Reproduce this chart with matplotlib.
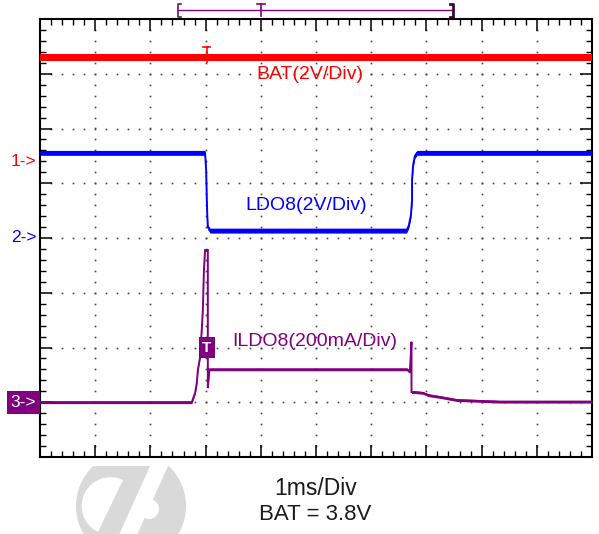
import matplotlib
matplotlib.use("Agg")
import numpy as np
import matplotlib.pyplot as plt
from matplotlib.ticker import MultipleLocator
from matplotlib.patches import Polygon, Circle

plt.rcParams['font.family'] = ['Liberation Sans', 'DejaVu Sans']

# Scope setup: 10 x 8 divisions, 1 ms/div
N_XDIV, N_YDIV = 10, 8
BAT_V_DIV = 2.0       # V/div
LDO_V_DIV = 2.0       # V/div
ILDO_MA_DIV = 200.0   # mA/div
REF1, REF2, REF3 = 5.40, 4.00, 1.00   # channel ground markers (div)
TRIG_T_MS = 3.02
TRIG_MA = 200.0

# CH1: battery, flat at 3.8 V
BAT_LEVEL_V = 3.8
bat_t = [0.0, 10.0]
bat_v = [BAT_LEVEL_V, BAT_LEVEL_V]

# CH2: LDO8 output voltage (V)
ldo_t = [0.0, 2.99, 3.01, 3.02, 3.03, 3.04, 3.08, 6.64, 6.68, 6.72,
         6.74, 6.74, 6.76, 6.79, 6.83, 10.0]
ldo_v = [3.11, 3.11, 2.48, 1.57, 0.84, 0.40, 0.27, 0.27, 0.44, 0.84,
         1.39, 2.12, 2.67, 2.99, 3.11, 3.11]

# CH3: LDO8 load current (mA)
ildo_t = [0.0, 2.75, 2.81, 2.84, 2.86, 2.90, 2.93, 2.95, 2.96, 2.97,
          2.99, 3.04, 3.04, 3.07, 6.65, 6.70, 6.73, 6.73, 6.79, 6.94,
          7.03, 7.25, 7.55, 8.33, 10.0]
ildo_ma = [0, 0, 34, 70, 118, 165, 264, 337, 410, 483,
           556, 556, 52, 120, 120, 110, 221, 37, 37, 34,
           26, 19, 8, 2, 2]

RED, BLUE, PURPLE = "#ff0000", "#0000ff", "#800080"


def trace(ax, t, y, color, band):
    """Scope trace: thin line plus a vertical noise band around it."""
    t = np.asarray(t, float)
    y = np.asarray(y, float)
    ax.fill_between(t, y - band, y + band, color=color, lw=0, zorder=3)
    ax.plot(t, y, color=color, lw=1.4, zorder=3, solid_joinstyle="miter")


fig = plt.figure(figsize=(5.99, 5.34), dpi=100)

# watermark logo under the time-base text (figure pixel coordinates)
wm = fig.add_axes([0, 0, 1, 1], zorder=0)
wm.set_xlim(0, 599); wm.set_ylim(534, 0); wm.axis("off")
gray = "#d9d9d9"
th = np.linspace(0, 2 * np.pi, 200)
disk = np.column_stack([131 + 55 * np.cos(th),
                        np.maximum(506 + 55 * np.sin(th), 466)])
wm.add_patch(Polygon(disk, closed=True, fc=gray, ec="none"))
# diagonal slash
wm.add_patch(Polygon([(150, 466), (168, 466), (134.7, 540), (116.7, 540)],
                     closed=True, fc="white", ec="none"))
# half-moon cut on the left
u = np.array([-0.433, 0.901])
n = np.array([-0.901, -0.433])
phi = np.linspace(0, np.pi, 60)
half = np.array([110.5, 506]) + 28.8 * (np.outer(np.cos(phi), u)
                                        + np.outer(np.sin(phi), n))
wm.add_patch(Polygon(half, closed=True, fc="white", ec="none"))
wm.add_patch(Circle((149, 509), 10, fc="white", ec="none"))

ax = fig.add_axes([40 / 599, 77 / 534, 552 / 599, 438 / 534], zorder=1)
ax.set_xlim(0, N_XDIV)
ax.set_ylim(0, N_YDIV)

# dotted graticule
minor = np.arange(0.2, 10, 0.2)
for gx in range(1, N_XDIV):
    ys = minor[minor < N_YDIV]
    ax.plot(np.full_like(ys, gx), ys, ls="none", marker="s", ms=1.2,
            mfc="#444444", mec="none", zorder=1)
for gy in range(1, N_YDIV):
    ax.plot(minor, np.full_like(minor, gy), ls="none", marker="s", ms=1.2,
            mfc="#444444", mec="none", zorder=1)

ax.xaxis.set_major_locator(MultipleLocator(1))
ax.xaxis.set_minor_locator(MultipleLocator(0.2))
ax.yaxis.set_major_locator(MultipleLocator(1))
ax.yaxis.set_minor_locator(MultipleLocator(0.2))
ax.tick_params(which="both", direction="in", top=True, right=True,
               labelbottom=False, labelleft=False, color="black")
ax.tick_params(which="major", length=8.5, width=1.1)
ax.tick_params(which="minor", length=4.0, width=1.0)
for sp in ax.spines.values():
    sp.set_linewidth(1.5)

# traces in division units
bat_div = [REF1 + v / BAT_V_DIV for v in bat_v]
ldo_div = [REF2 + v / LDO_V_DIV for v in ldo_v]
ildo_div = [REF3 + i / ILDO_MA_DIV for i in ildo_ma]
trace(ax, bat_t, bat_div, RED, 0.065)
trace(ax, ldo_t, ldo_div, BLUE, 0.045)
trace(ax, ildo_t, ildo_div, PURPLE, 0.025)

# trigger marks
bat_y = bat_div[0]
ax.plot([TRIG_T_MS, TRIG_T_MS], [bat_y - 0.08, bat_y + 0.19], color=RED, lw=1.2,
        zorder=4)
ax.plot([TRIG_T_MS - 0.065, TRIG_T_MS + 0.065], [bat_y + 0.19, bat_y + 0.19],
        color=RED, lw=1.2, zorder=4)
ax.text(TRIG_T_MS, REF3 + TRIG_MA / ILDO_MA_DIV, "T", color="white", fontsize=11,
        fontweight="bold", ha="center", va="center", zorder=5,
        bbox=dict(boxstyle="square,pad=0.22", fc=PURPLE, ec="none"))

# memory position bar above the screen
yb = 8.16
ax.plot([2.5, 7.48], [yb, yb], color=PURPLE, lw=1.0, clip_on=False)
ax.plot([2.55, 2.5, 2.5, 2.55], [8.28, 8.28, 8.04, 8.04], color="#6a1a6a",
        lw=1.2, clip_on=False)
ax.plot([7.42, 7.48, 7.48, 7.42], [8.28, 8.28, 8.03, 8.03], color="#3a0a3a",
        lw=2.0, clip_on=False)
ax.plot([4.0, 4.0], [8.06, 8.28], color=PURPLE, lw=1.2, clip_on=False)
ax.plot([3.93, 4.07], [8.28, 8.28], color=PURPLE, lw=1.2, clip_on=False)

# channel ground markers
ax.annotate("1->", xy=(0, REF1), xytext=(-2.5, 0), textcoords="offset points",
            color=RED, fontsize=12.5, ha="right", va="center",
            annotation_clip=False)
ax.annotate("2->", xy=(0, REF2), xytext=(-2.5, 0), textcoords="offset points",
            color=BLUE, fontsize=12.5, ha="right", va="center",
            annotation_clip=False)
ax.annotate("3->", xy=(0, REF3), xytext=(-3.0, 0), textcoords="offset points",
            color="white", fontsize=12.5, ha="right", va="center",
            annotation_clip=False,
            bbox=dict(boxstyle="square,pad=0.22", fc=PURPLE, ec="none"))

# channel labels
ax.text(4.89, 6.98, "BAT(2V/Div)", color=RED, fontsize=14, ha="center",
        va="center")
ax.text(4.83, 4.60, "LDO8(2V/Div)", color=BLUE, fontsize=14, ha="center",
        va="center")
ax.text(4.98, 2.11, "ILDO8(200mA/Div)", color=PURPLE, fontsize=14, ha="center",
        va="center")

fig.text(0.527, 0.086, "1ms/Div", color="#1a1a1a", fontsize=16.5, ha="center",
         va="center")
fig.text(0.526, 0.036, f"BAT = {BAT_LEVEL_V}V", color="#1a1a1a", fontsize=16,
         ha="center", va="center")

fig.savefig("out.png", dpi=100, facecolor="white")
